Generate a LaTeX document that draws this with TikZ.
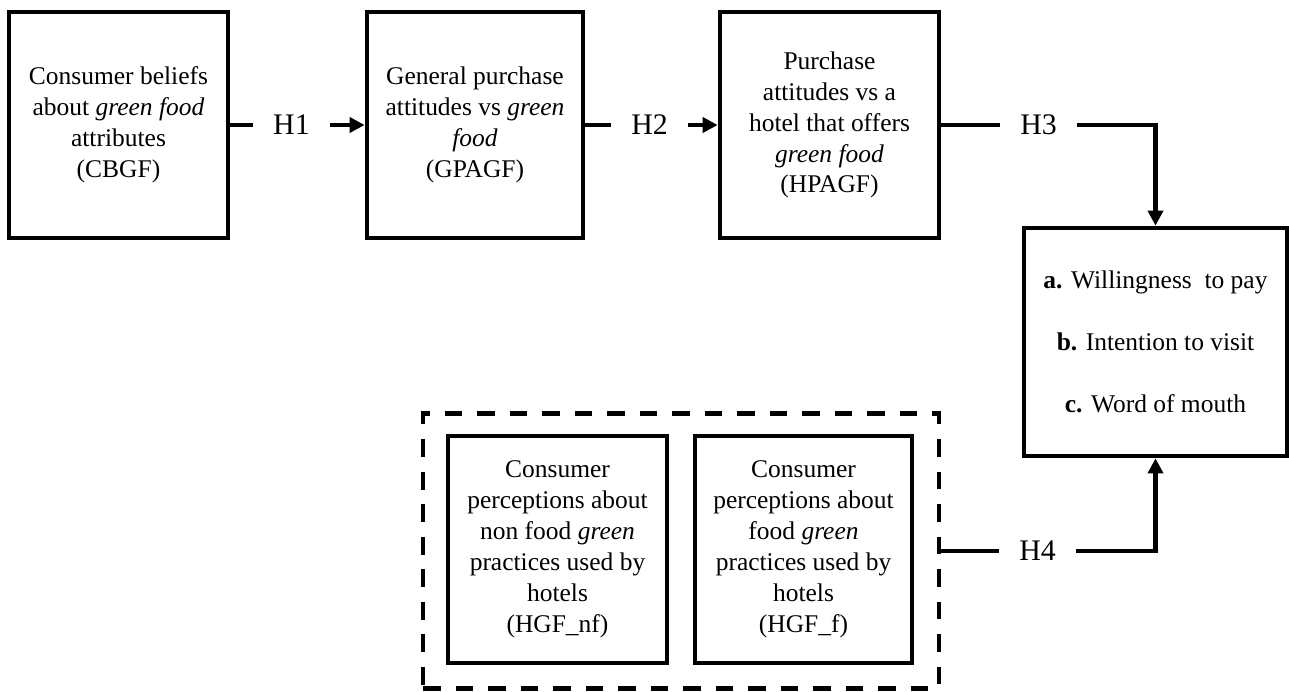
\documentclass[tikz,border=0pt]{standalone}
\usepackage{fontspec}
\setmainfont{Liberation Serif}
\usetikzlibrary{arrows.meta}
\begin{document}
\begin{tikzpicture}[line width=2.7pt,
                    align=center,
                    every node/.style={text centered, font=\fontsize{14.5}{17.6}\selectfont},
                    box/.style={draw, inner sep=0pt, minimum height=4.52cm},
                    hyp/.style={inner sep=0pt, minimum width=1.46cm, font=\fontsize{17}{20}\selectfont},
                    tip/.style={-{Triangle[length=8.5pt, width=8.5pt]}}]
  \useasboundingbox (0, 0) rectangle (25.78, -13.82);
  \node[box, minimum width=4.38cm] (cbgf) at (2.37, -2.5) {Consumer beliefs\\about \textit{green food}\\attributes\\(CBGF)};
  \node[box, minimum width=4.32cm] (gpagf) at (9.5, -2.5) {General purchase\\attitudes vs \textit{green}\\\textit{food}\\(GPAGF)};
  \node[box, minimum width=4.38cm] (hpagf) at (16.59, -2.5) {Purchase\\attitudes vs a\\hotel that offers\\\textit{green food}\\(HPAGF)};
  \node[box, minimum width=5.26cm, minimum height=4.56cm] (outcome) at (23.11, -6.84) {\textbf{a.} Willingness\ \ to pay\\[17.6pt]\textbf{b.} Intention to visit\\[17.6pt]\textbf{c.} Word of mouth};
  \node[draw, dash pattern=on 10pt off 8.5pt, minimum width=10.32cm, minimum height=5.5cm] (group) at (13.62, -11.02) {};
  \node[box, minimum width=4.38cm, minimum height=4.54cm] (hgf_nf) at (11.15, -10.99) {Consumer\\perceptions about\\non food \textit{green}\\practices used by\\hotels\\(HGF\_nf)};
  \node[box, minimum width=4.34cm, minimum height=4.54cm] (hgf_f) at (16.07, -10.99) {Consumer\\perceptions about\\food \textit{green}\\practices used by\\hotels\\(HGF\_f)};
  \node[hyp] (h1) at (5.83, -2.5) {H1};
  \node[hyp] (h2) at (12.99, -2.5) {H2};
  \node[hyp] (h3) at (20.77, -2.5) {H3};
  \node[hyp] (h4) at (20.75, -11.02) {H4};
  \draw (cbgf) -- (h1);
  \draw[tip] (h1) -- (gpagf);
  \draw (gpagf) -- (h2);
  \draw[tip] (h2) -- (hpagf);
  \draw (hpagf) -- (h3);
  \draw[tip] (h3) -| (outcome);
  \draw (group) -- (h4);
  \draw[tip] (h4) -| (outcome);
\end{tikzpicture}
\end{document}
